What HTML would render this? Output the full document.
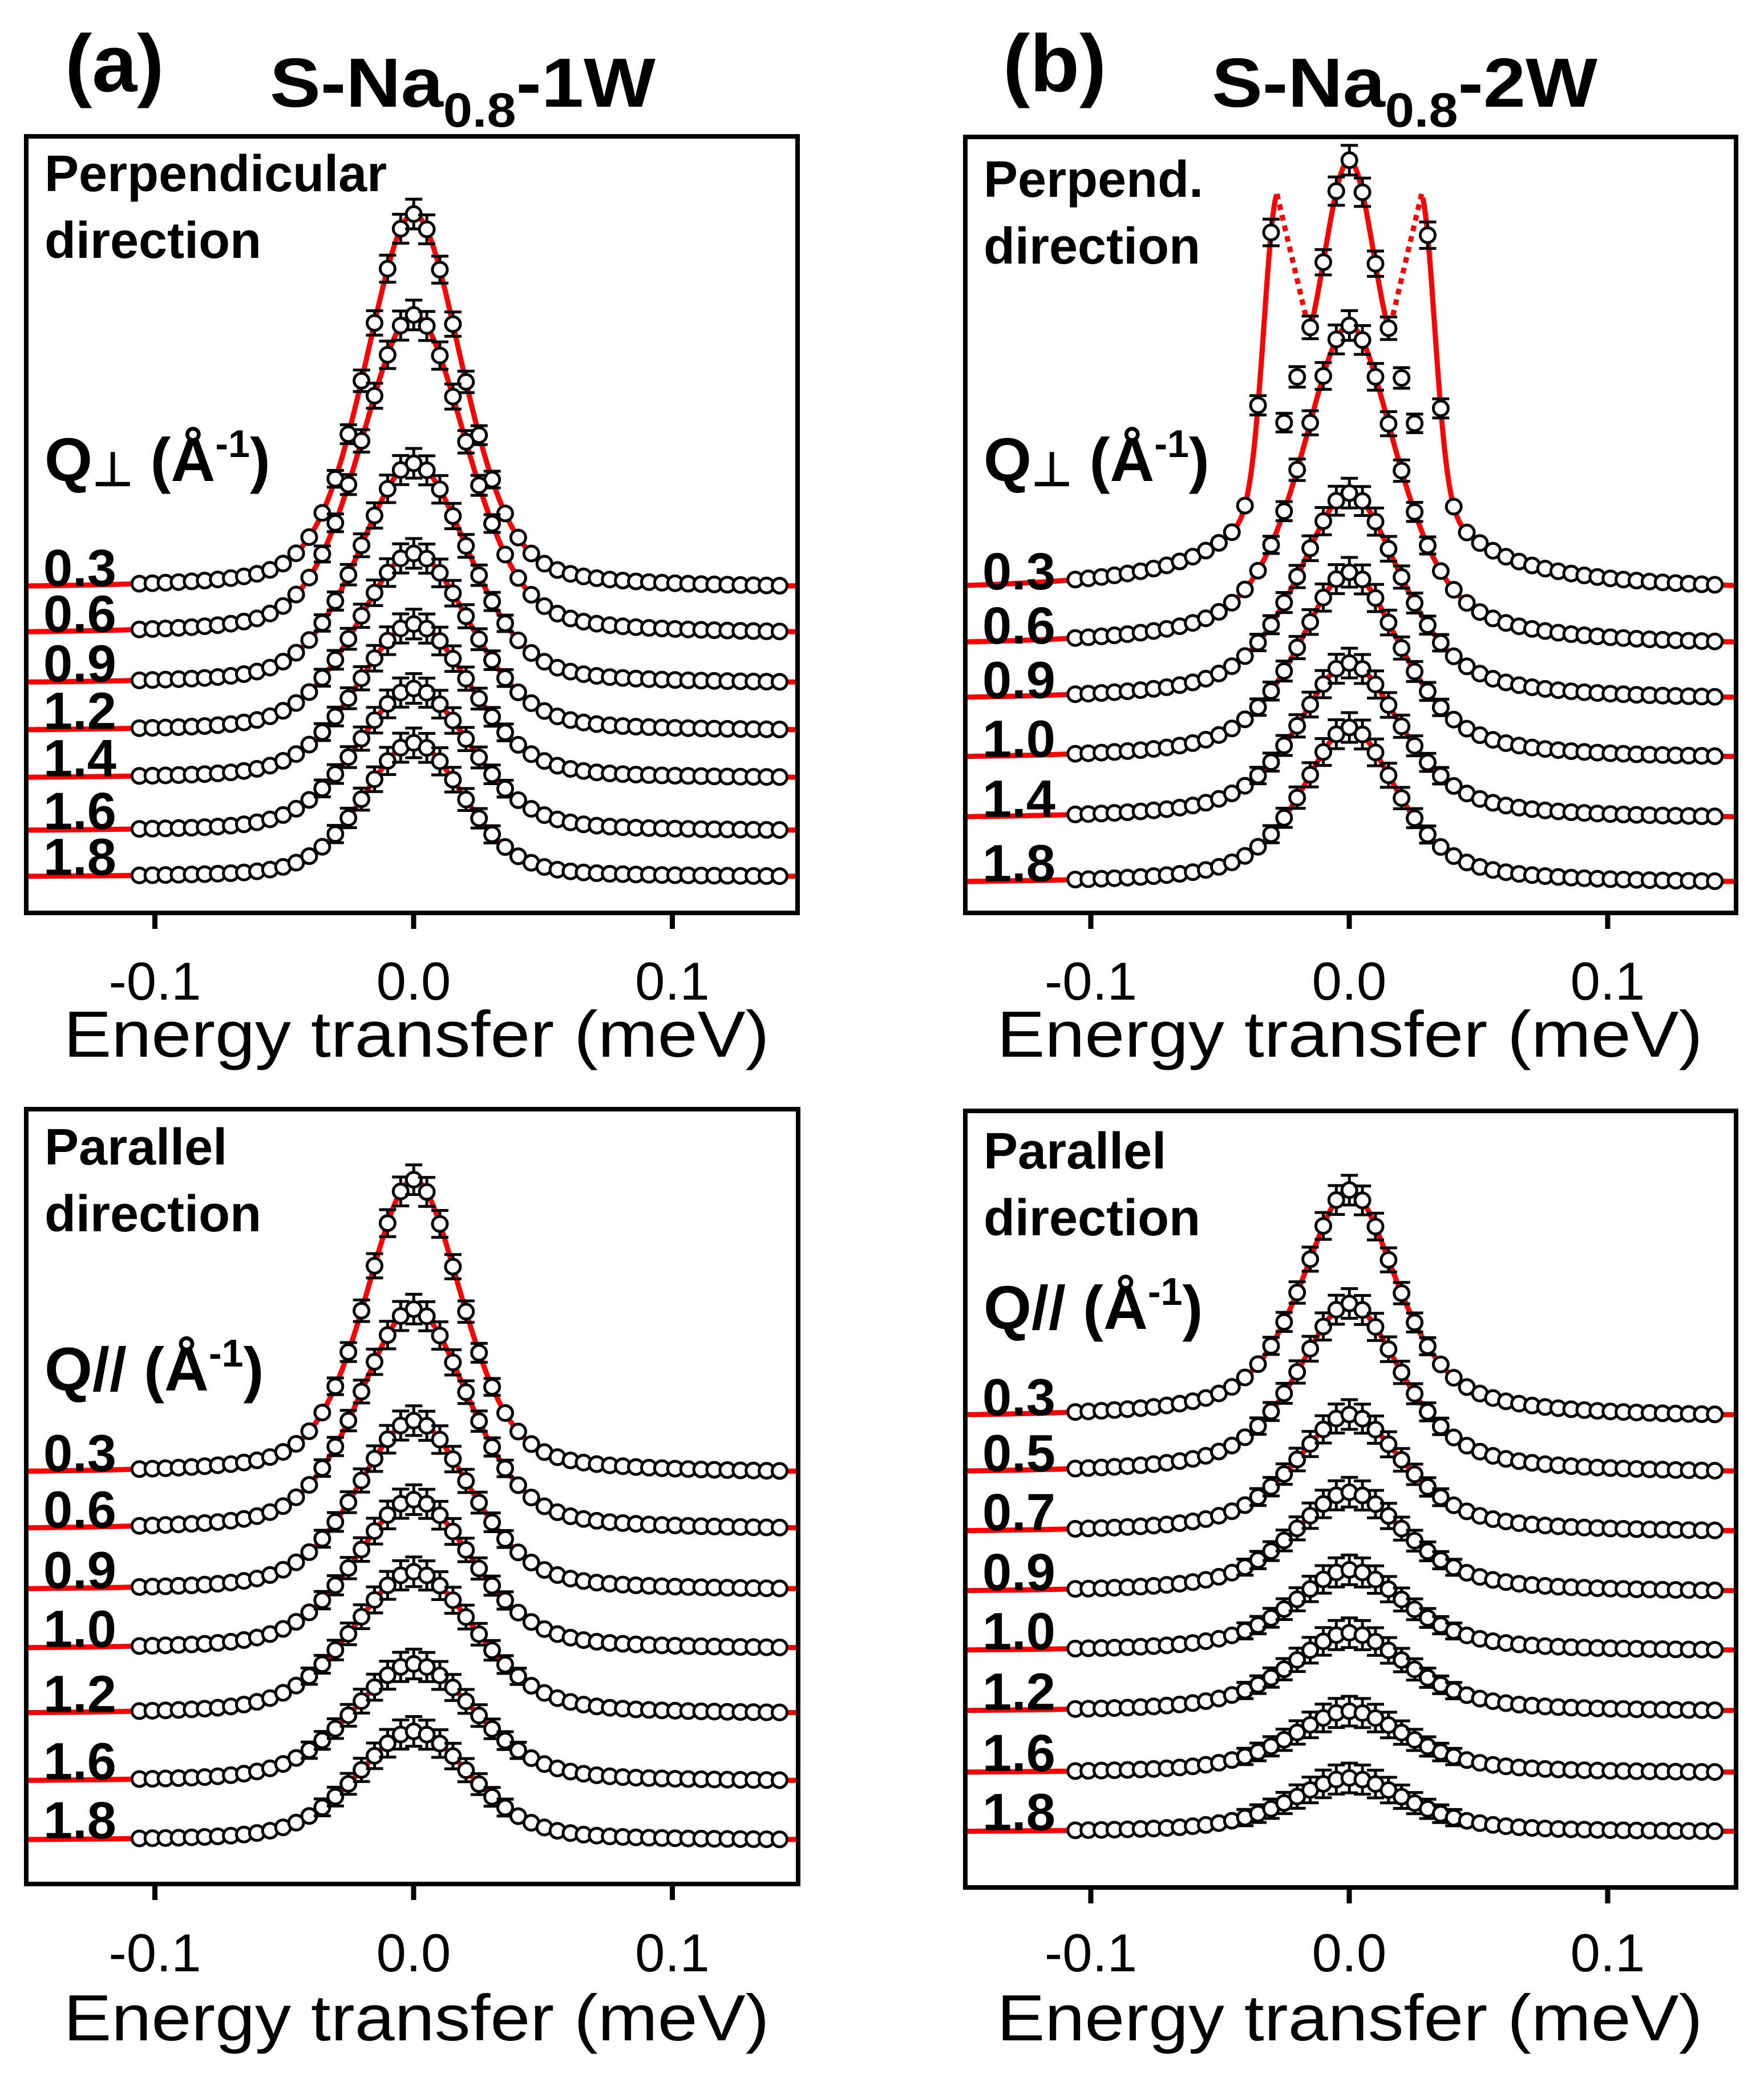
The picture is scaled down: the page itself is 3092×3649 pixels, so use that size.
<!DOCTYPE html>
<html><head><meta charset="utf-8"><style>
html,body{margin:0;padding:0;background:#fff}
svg{display:block}
text{font-family:"Liberation Sans",Arial,sans-serif;fill:#000}
</style></head><body>
<svg id="fig" xmlns="http://www.w3.org/2000/svg" width="3092" height="3649" viewBox="0 0 3092 3649">
<rect width="3092" height="3649" fill="#fff"/>
<text x="114" y="160" font-size="142" font-weight="bold">(a)</text>
<text x="473" y="187" font-size="122" font-weight="bold" textLength="676" lengthAdjust="spacingAndGlyphs">S-Na<tspan font-size="84" dy="35">0.8</tspan><tspan dy="-35">-1W</tspan></text>
<text x="1758" y="160" font-size="142" font-weight="bold">(b)</text>
<text x="2124" y="187" font-size="122" font-weight="bold" textLength="676" lengthAdjust="spacingAndGlyphs">S-Na<tspan font-size="84" dy="35">0.8</tspan><tspan dy="-35">-2W</tspan></text>
</svg>
<script>
// ---- data (energy in meV, intensity in arbitrary units 0..100 of axis height) ----
const energyPoints = [];
for (let i = 0; i < 50; i++) energyPoints.push(-0.106 + i * 0.00505);
const xTicks = [-0.1, 0.0, 0.1];
const xTickLabels = ["-0.1", "0.0", "0.1"];

const tlQ = ["0.3","0.6","0.9","1.2","1.4","1.6","1.8"];
const tlBase = [41.8,35.9,29.5,23.4,17.3,10.5,4.6];
const tlAmp = [48.2,41.1,28.4,22.9,19.9,18.4,17.3];
const tlWidth = [0.022,0.024,0.025,0.026,0.026,0.026,0.023];

const trQ = ["0.3","0.6","0.9","1.0","1.4","1.8"];
const trBase = [41.4,34.4,27.4,19.8,12.1,3.8];
const trAmp = [55.6,41.3,26.7,24.1,20.1,20.1];
const trWidth = [0.018,0.022,0.024,0.024,0.024,0.022];
const trSpikePos = 0.028;
const trSpikeAmp = 35;

const blQ = ["0.3","0.6","0.9","1.0","1.2","1.6","1.8"];
const blBase = [53.0,45.7,37.9,30.3,21.9,13.2,5.6];
const blAmp = [37.9,28.5,21.9,19.3,18.4,15.2,14.1];
const blWidth = [0.022,0.025,0.026,0.027,0.028,0.028,0.026];

const brQ = ["0.3","0.5","0.7","0.9","1.0","1.2","1.6","1.8"];
const brBase = [60.5,53.3,45.7,38.0,30.4,22.6,14.7,7.1];
const brAmp = [29.3,21.9,15.2,12.9,10.5,10.2,8.0,7.0];
const brWidth = [0.022,0.024,0.025,0.026,0.026,0.027,0.027,0.027];

const NS = "http://www.w3.org/2000/svg";
const svg = document.getElementById('fig');
function mk(tag, attrs, parent) {
  const e = document.createElementNS(NS, tag);
  for (const k in attrs) e.setAttribute(k, attrs[k]);
  (parent || svg).appendChild(e);
  return e;
}
function pv(x, w, eta) {
  const r = (x / w) * (x / w);
  return eta / (1 + r) + (1 - eta) * Math.exp(-0.693 * r);
}

function panel(cfg, qs, base, amp, width, eta, spike) {
  const g = mk('g', {});
  
  
  const X = e => cfg.x0 + e * cfg.pxPerMeV;
  const Y = v => cfg.bottom - v / 100 * (cfg.bottom - cfg.top);
  const eMin = (cfg.left - cfg.x0) / cfg.pxPerMeV, eMax = (cfg.right - cfg.x0) / cfg.pxPerMeV;
  const valley = 0.0155;
  for (let k = 0; k < qs.length; k++) {
    const isSpike = spike && k === 0;
    const central = e => base[k] + amp[k] * pv(e, width[k], isSpike ? 1.0 : eta);
    const model = e => {
      let v = central(e);
      if (isSpike) {
        v += trSpikeAmp * Math.exp(-0.693 * Math.pow((e + trSpikePos) / 0.006, 2));
        v += trSpikeAmp * Math.exp(-0.693 * Math.pow((e - trSpikePos) / 0.006, 2));
      }
      return v;
    };
    const inGapF = e => isSpike && ((e > -trSpikePos && e < -valley) || (e > valley && e < trSpikePos));
    const segs = [[]];
    for (let e = eMin; e <= eMax + 1e-9; e += 0.0005) {
      if (inGapF(e)) { if (segs[segs.length - 1].length) segs.push([]); continue; }
      segs[segs.length - 1].push(X(e).toFixed(1) + ',' + Y(model(e)).toFixed(1));
    }
    segs.forEach(s => {
      if (s.length < 2) return;
      const p = mk('polyline', {points: s.join(' '), fill: 'none', stroke: '#f00', 'stroke-width': 9, 'stroke-linejoin': 'round'}, g);
      
      
    });
    if (isSpike) {
      [[-trSpikePos, -valley], [trSpikePos, valley]].forEach(pr => {
        const d = mk('line', {x1: X(pr[0]), y1: Y(model(pr[0])), x2: X(pr[1]), y2: Y(model(pr[1])), stroke: '#f00', 'stroke-width': 9, 'stroke-dasharray': '10 9'}, g);
        
        
      });
    }
    for (const e of energyPoints) {
      let v = model(e);
      if (inGapF(e)) v = central(e) + 3;
      const px = X(e), py = Y(v);
      const rel = (v - base[k]) / amp[k];
      if (rel > 0.25) {
        const eb = 10 + 16 * Math.min(rel, 1.2);
        const b = mk('path', {d: `M${px},${py - eb}V${py + eb}M${px - 15},${py - eb}H${px + 15}M${px - 15},${py + eb}H${px + 15}`, stroke: '#000', 'stroke-width': 5, fill: 'none'}, g);
        
        
      }
      const c = mk('circle', {cx: px.toFixed(1), cy: py.toFixed(1), r: 13, fill: '#fff', stroke: '#000', 'stroke-width': 5}, g);
      
      
    }
    const t = mk('text', {x: cfg.qx, y: Y(base[k]) - 4, 'font-size': 92, 'font-weight': 'bold'}, g);
    t.textContent = qs[k];
    
    
  }
  const f = mk('rect', {x: cfg.left, y: cfg.top, width: cfg.right - cfg.left, height: cfg.bottom - cfg.top, fill: 'none', stroke: '#000', 'stroke-width': 8}, g);
  
  
  for (let i = 0; i < xTicks.length; i++) {
    const tx = X(xTicks[i]);
    const tk = mk('line', {x1: tx, y1: cfg.bottom, x2: tx, y2: cfg.bottom + 28, stroke: '#000', 'stroke-width': 9}, g);
    
    
    const tl = mk('text', {x: tx, y: cfg.tickY, 'font-size': 94, 'text-anchor': 'middle'}, g);
    tl.textContent = xTickLabels[i];
    
    
  }
  const at = mk('text', {x: cfg.titleX, y: cfg.titleY, 'font-size': 114, 'text-anchor': 'middle', textLength: 1237, lengthAdjust: 'spacingAndGlyphs'}, g);
  at.textContent = 'Energy transfer (meV)';
  
  
  const l1 = mk('text', {x: cfg.qx + 2, y: cfg.dirY, 'font-size': 90, 'font-weight': 'bold'}, g);
  l1.textContent = cfg.dir1;
  
  
  const l2 = mk('text', {x: cfg.qx + 2, y: cfg.dirY + 117, 'font-size': 90, 'font-weight': 'bold'}, g);
  l2.textContent = 'direction';
  
  
  const ql = mk('text', {x: cfg.qx + 2, y: cfg.qTitleY, 'font-size': 108, 'font-weight': 'bold'}, g);
  ql.innerHTML = cfg.qTitle;
  
  
}

const perpQ = 'Q<tspan font-size="82" dy="8">⊥</tspan><tspan dy="-8"> (Å</tspan><tspan font-size="68" dy="-42">-1</tspan><tspan dy="42">)</tspan>';
const parQ = 'Q// (Å<tspan font-size="68" dy="-42">-1</tspan><tspan dy="42">)</tspan>';

panel({name:'panel-a-perpendicular', left:46, right:1398, top:239, bottom:1600, x0:725, pxPerMeV:4535, qx:76, tickY:1752, titleX:730, titleY:1852, dirY:335, dir1:'Perpendicular', qTitleY:843, qTitle:perpQ}, tlQ, tlBase, tlAmp, tlWidth, 0.3, false);
panel({name:'panel-b-perpendicular', left:1692, right:3043, top:240, bottom:1600, x0:2365, pxPerMeV:4530, qx:1722, tickY:1752, titleX:2366, titleY:1852, dirY:345, dir1:'Perpend.', qTitleY:843, qTitle:perpQ}, trQ, trBase, trAmp, trWidth, 0.6, true);
panel({name:'panel-a-parallel', left:46, right:1399, top:1944, bottom:3302, x0:725, pxPerMeV:4535, qx:76, tickY:3455, titleX:730, titleY:3576, dirY:2041, dir1:'Parallel', qTitleY:2437, qTitle:parQ}, blQ, blBase, blAmp, blWidth, 0.35, false);
panel({name:'panel-b-parallel', left:1692, right:3043, top:1947, bottom:3308, x0:2365, pxPerMeV:4530, qx:1722, tickY:3455, titleX:2366, titleY:3576, dirY:2048, dir1:'Parallel', qTitleY:2329, qTitle:parQ}, brQ, brBase, brAmp, brWidth, 0.6, false);
</script>
</body></html>
